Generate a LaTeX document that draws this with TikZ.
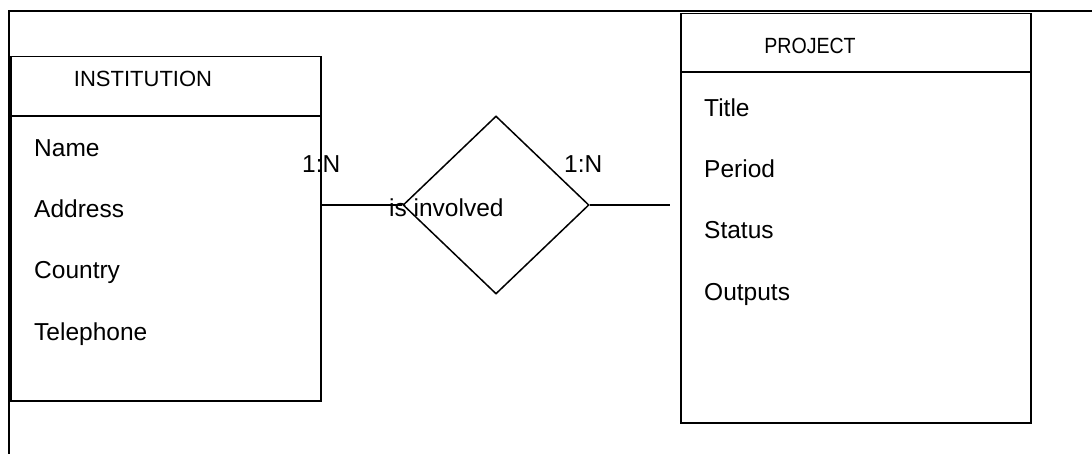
\documentclass[tikz,border=0pt]{standalone}
\usepackage{fontspec}
\setmainfont{Liberation Sans}
\usetikzlibrary{shapes.geometric}
\begin{document}
\begin{tikzpicture}[x=1pt,y=-1pt,
  line/.style={draw=black,line width=1.5pt},
  attr/.style={anchor=base west,inner sep=0pt,font=\fontsize{24.5}{28}\selectfont},
  head/.style={anchor=base,inner sep=0pt,font=\fontsize{22}{26}\selectfont},
  card/.style={anchor=base west,inner sep=0pt,font=\fontsize{24.5}{28}\selectfont}]
\useasboundingbox (0,0) rectangle (1092,454);
% frame (top and left edges)
\draw[line] (1092,11) -- (9,11) -- (9,454);
% INSTITUTION entity
\node[line,rectangle,minimum width=310pt,minimum height=344pt,anchor=north west,inner sep=0pt] (inst) at (10,56) {};
\draw[line] (10,116) -- (320,116);
\node[head] (insth) at (143,87) {INSTITUTION};
\node[attr] (a1) at (34,157) {Name};
\node[attr] (a2) at (34,218) {Address};
\node[attr] (a3) at (34,279) {Country};
\node[attr] (a4) at (34,340) {Telephone};
% PROJECT entity
\node[line,rectangle,minimum width=350pt,minimum height=409pt,anchor=north west,inner sep=0pt] (proj) at (680,13) {};
\draw[line] (680,72) -- (1030,72);
\node[head] (projh) at (810,54) {\scalebox{0.89}[1]{PROJECT}};
\node[attr] (b1) at (704,117) {Title};
\node[attr] (b2) at (704,178) {Period};
\node[attr] (b3) at (704,239) {Status};
\node[attr] (b4) at (704,301) {Outputs};
% relationship
\node[line,diamond,minimum width=186pt,minimum height=178pt,inner sep=0pt,aspect=1.045] (rel) at (496,205) {};
\node[card] (rl) at (389,217) {is involved};
\node[card] (c1) at (302,173) {1:N};
\node[card] (c2) at (564,173) {1:N};
\coordinate (rend) at (670,205);
\draw[line] (inst.east |- rel.west) -- (rel.west);
\draw[line] (rel.east) -- (rend);
\end{tikzpicture}
\end{document}
